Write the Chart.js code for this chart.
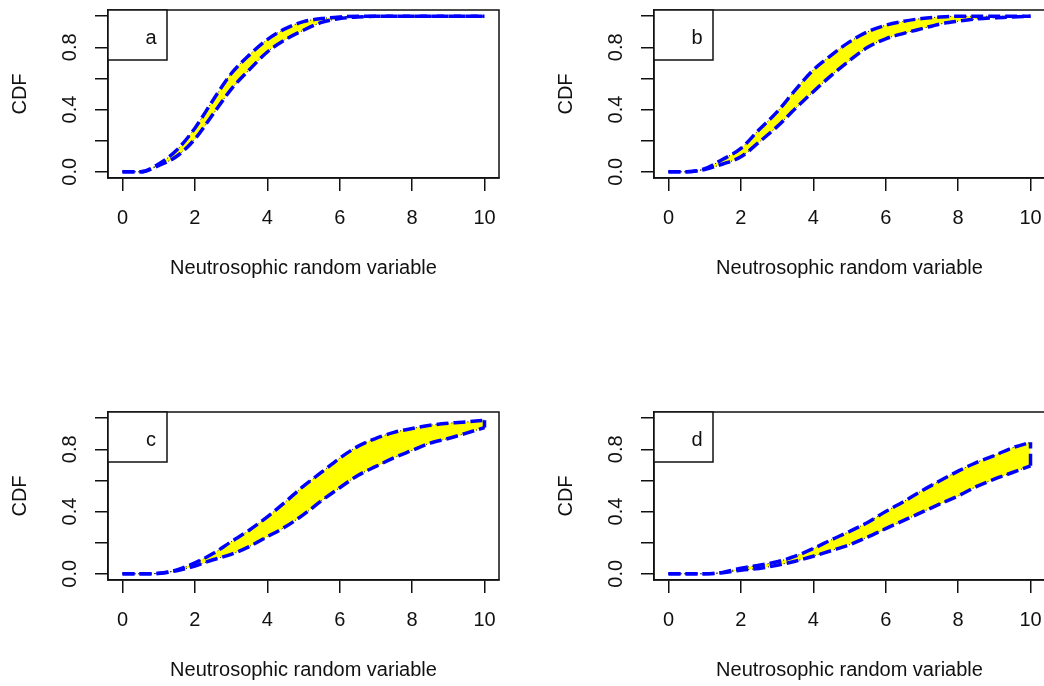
<!DOCTYPE html>
<html>
<head>
<meta charset="utf-8">
<script src="https://cdn.jsdelivr.net/npm/chart.js@4.4.1/dist/chart.umd.min.js"></script>
<style>
  html, body { margin: 0; padding: 0; background: #fff; overflow: hidden; }
  body { width: 1044px; height: 686px; position: relative; }
  canvas { position: absolute; }
</style>
</head>
<body>
<canvas id="chartA" width="522" height="284" style="left:0;top:0"></canvas>
<canvas id="chartB" width="522" height="284" style="left:546px;top:0"></canvas>
<canvas id="chartC" width="522" height="284" style="left:0;top:402px"></canvas>
<canvas id="chartD" width="522" height="284" style="left:546px;top:402px"></canvas>
<script>
// x grid shared by every curve
const xs = [0, 0.5, 1, 1.5, 2, 2.5, 3, 3.5, 4, 4.5, 5, 5.5, 6, 6.5, 7, 7.5, 8, 8.5, 9, 9.5, 10];

// upper / lower CDF bounds for each case
const upperA = [0, 0, 0.05, 0.14, 0.28, 0.46, 0.63, 0.75, 0.85, 0.92, 0.965, 0.985, 0.995, 1, 1, 1, 1, 1, 1, 1, 1];
const lowerA = [0, 0, 0.04, 0.10, 0.21, 0.37, 0.53, 0.655, 0.77, 0.85, 0.91, 0.96, 0.985, 0.995, 1, 1, 1, 1, 1, 1, 1];

const upperB = [0, 0, 0.02, 0.08, 0.15, 0.27, 0.385, 0.525, 0.655, 0.75, 0.835, 0.9, 0.942, 0.968, 0.985, 0.995, 1, 1, 1, 1, 1];
const lowerB = [0, 0, 0.015, 0.05, 0.096, 0.19, 0.29, 0.405, 0.515, 0.62, 0.715, 0.8, 0.855, 0.89, 0.92, 0.95, 0.968, 0.982, 0.99, 0.995, 1];

const upperC = [0, 0, 0.003, 0.025, 0.07, 0.13, 0.206, 0.28, 0.366, 0.462, 0.564, 0.653, 0.743, 0.819, 0.87, 0.909, 0.934, 0.955, 0.968, 0.976, 0.987];
const lowerC = [0, 0, 0.002, 0.02, 0.05, 0.09, 0.125, 0.175, 0.238, 0.302, 0.38, 0.47, 0.553, 0.632, 0.69, 0.746, 0.793, 0.84, 0.87, 0.904, 0.94];

const upperD = [0, 0, 0, 0.009, 0.036, 0.055, 0.077, 0.113, 0.162, 0.219, 0.272, 0.33, 0.40, 0.465, 0.534, 0.598, 0.66, 0.715, 0.76, 0.81, 0.845];
const lowerD = [0, 0, 0, 0.007, 0.023, 0.034, 0.055, 0.081, 0.113, 0.149, 0.187, 0.236, 0.29, 0.343, 0.396, 0.449, 0.50, 0.56, 0.608, 0.651, 0.694];

const xTicks = [0, 2, 4, 6, 8, 10];
const yTicks = [0, 0.2, 0.4, 0.6, 0.8, 1];
const yTickLabels = ['0.0', '', '0.4', '', '0.8', ''];

const ink = '#111';
const family = "'Liberation Sans', Arial, sans-serif";

function pts(ys) {
  return xs.map((x, i) => ({ x: x, y: ys[i] }));
}

// frame round the plot and the little key box with the panel letter
const boxAndKey = {
  id: 'boxAndKey',
  afterDraw(chart, args, opts) {
    const ctx = chart.ctx;
    const a = chart.chartArea;
    ctx.save();
    ctx.strokeStyle = ink;
    ctx.lineWidth = 1.5;
    ctx.strokeRect(a.left, a.top, a.right - a.left, a.bottom - a.top);
    ctx.fillStyle = '#fff';
    ctx.fillRect(a.left, a.top, 59, 50);
    ctx.strokeRect(a.left, a.top, 59, 50);
    ctx.fillStyle = ink;
    ctx.font = '20px ' + family;
    ctx.textAlign = 'center';
    ctx.textBaseline = 'alphabetic';
    ctx.fillText(opts.letter, a.left + 43, a.top + 34);
    ctx.restore();
  }
};

function makePanel(id, letter, upper, lower) {
  const last = xs.length - 1;
  const blue = { borderColor: '#0000ff', borderWidth: 3.5, borderDash: [12, 5], fill: false, order: 0 };
  const dotted = { borderColor: '#000', borderWidth: 1, borderDash: [1, 3], order: 1 };

  new Chart(document.getElementById(id), {
    type: 'line',
    data: {
      datasets: [
        Object.assign({ data: pts(upper) }, blue),
        Object.assign({ data: pts(lower) }, blue),
        Object.assign({ data: [{ x: xs[last], y: lower[last] }, { x: xs[last], y: upper[last] }] }, blue),
        Object.assign({ data: pts(upper), backgroundColor: '#ffff00', fill: '+1' }, dotted),
        Object.assign({ data: pts(lower), fill: false }, dotted)
      ]
    },
    options: {
      responsive: false,
      animation: false,
      layout: { padding: { left: 0, top: 10, right: 23, bottom: 0 } },
      elements: {
        point: { radius: 0 },
        line: { cubicInterpolationMode: 'monotone' }
      },
      plugins: {
        legend: { display: false },
        tooltip: { enabled: false },
        filler: { drawTime: 'beforeDatasetsDraw' },
        boxAndKey: { letter: letter }
      },
      scales: {
        x: {
          type: 'linear',
          min: -0.4,
          max: 10.4,
          afterFit(s) { s.height = 106; s.paddingLeft = 0; s.paddingRight = 0; },
          afterBuildTicks(s) { s.ticks = xTicks.map(v => ({ value: v })); },
          grid: { drawOnChartArea: false, drawTicks: true, tickLength: 13, color: ink, lineWidth: 1.5 },
          border: { display: true, color: ink, width: 1.5 },
          ticks: {
            color: ink, font: { family: family, size: 20 }, padding: 15,
            maxRotation: 0, autoSkip: false,
            callback: v => String(v)
          },
          title: {
            display: true, text: 'Neutrosophic random variable', color: ink,
            font: { family: family, size: 20 }, padding: { top: 0, bottom: 4 }
          }
        },
        y: {
          type: 'linear',
          min: -0.04,
          max: 1.04,
          afterFit(s) { s.width = 108; s.paddingTop = 0; s.paddingBottom = 0; },
          afterBuildTicks(s) { s.ticks = yTicks.map(v => ({ value: v })); },
          grid: { drawOnChartArea: false, drawTicks: true, tickLength: 13, color: ink, lineWidth: 1.5 },
          border: { display: true, color: ink, width: 1.5 },
          ticks: {
            color: ink, font: { family: family, size: 20 }, padding: 11,
            minRotation: 90, maxRotation: 90, crossAlign: 'center', autoSkip: false,
            callback: (v, i) => yTickLabels[i]
          },
          title: {
            display: true, text: 'CDF', color: ink,
            font: { family: family, size: 20 }, padding: { top: 8.5, bottom: 0 }
          }
        }
      }
    },
    plugins: [boxAndKey]
  });
}

makePanel('chartA', 'a', upperA, lowerA);
makePanel('chartB', 'b', upperB, lowerB);
makePanel('chartC', 'c', upperC, lowerC);
makePanel('chartD', 'd', upperD, lowerD);
</script>
</body>
</html>
